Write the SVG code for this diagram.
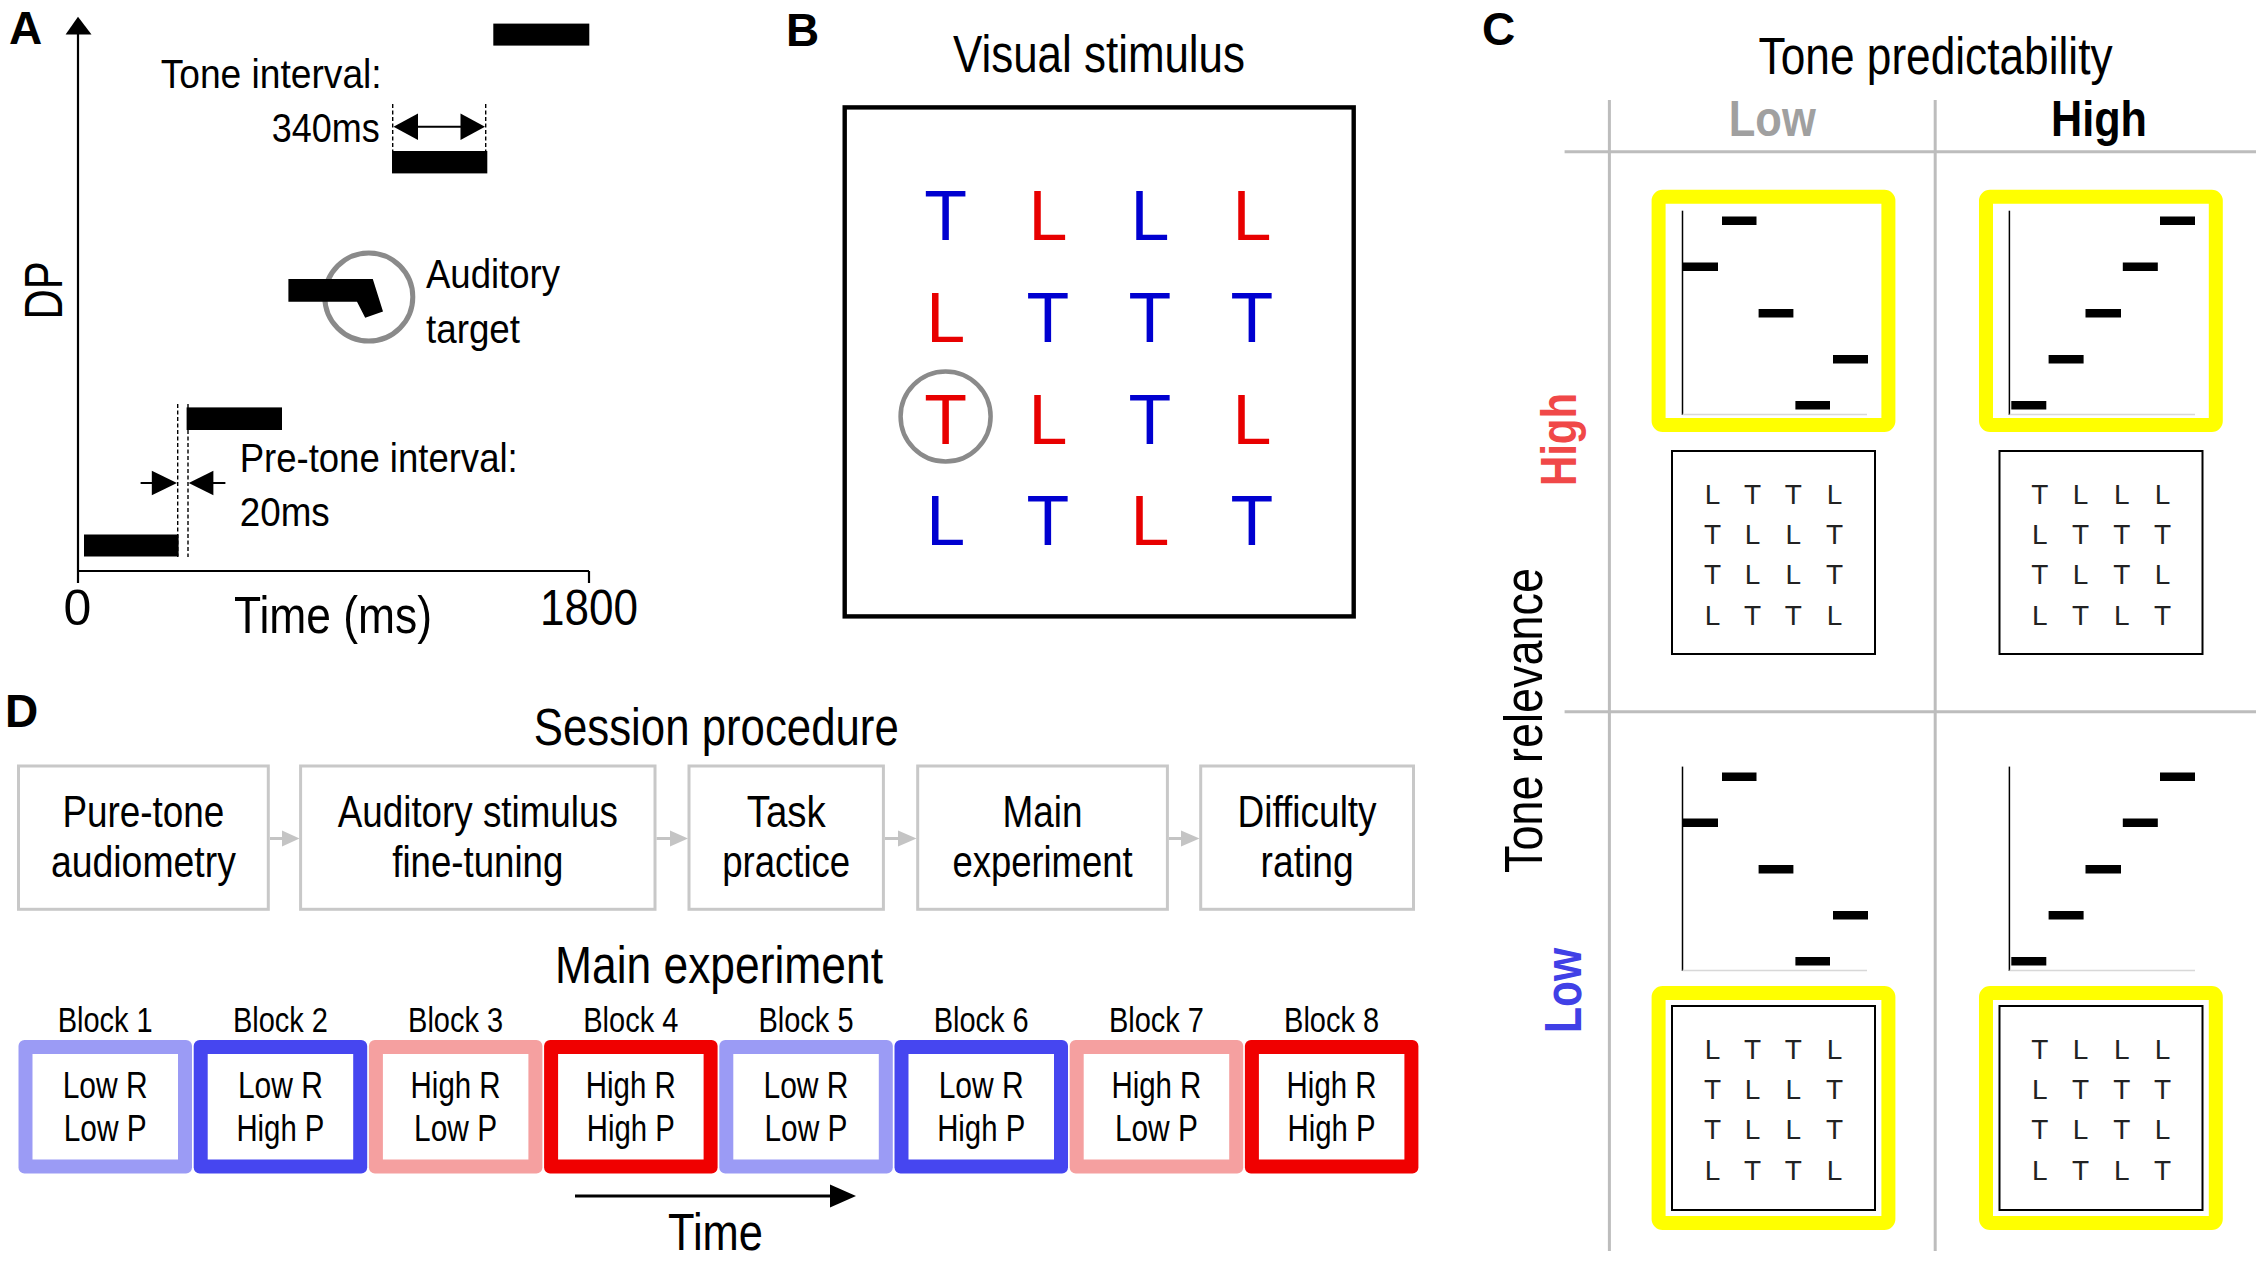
<svg xmlns="http://www.w3.org/2000/svg" width="2260" height="1264" viewBox="0 0 2260 1264">
<style>
text{font-family:"Liberation Sans",Arial,Helvetica,sans-serif;fill:#000}
.lbl{font-weight:bold;font-size:46px}
.ta{font-size:40px}
.big{font-size:51px}
.stim{font-size:70px;text-anchor:middle}
.bl{fill:#0000d0}
.rd{fill:#e80000}
.sm{font-size:28px;text-anchor:middle;fill:#222}
.bar{fill:#000}
.dash{stroke:#000;stroke-width:1.4;stroke-dasharray:4 2.5;fill:none}
.ax{stroke:#000;stroke-width:2.2;fill:none}
.grid{stroke:#bdbdbd;stroke-width:3;fill:none}
.yel{fill:none;stroke:#ffff00;stroke-width:14}
.pax{stroke:#000;stroke-width:1.5}
.pxa{stroke:#d8d8d8;stroke-width:1.5}
.sbox{fill:#fff;stroke:#000;stroke-width:2}
.proc{fill:#fff;stroke:#c8c8c8;stroke-width:3}
.pt{font-size:44px;text-anchor:middle}
.bk{font-size:35px;text-anchor:middle}
.bt{font-size:36px;text-anchor:middle}
.c1{fill:#9b9bf5}.c2{fill:#4646f0}.c3{fill:#f5a0a0}.c4{fill:#f00000}
</style>

<!-- Panel A -->
<g id="panelA">
  <text class="lbl" x="9" y="44">A</text>
  <line class="ax" x1="78" y1="30" x2="78" y2="583"/>
  <polygon points="78,16.8 65.6,34.5 91.5,34.5" fill="#000"/>
  <line class="ax" x1="77" y1="571" x2="589" y2="571"/>
  <line class="ax" x1="589" y1="571" x2="589" y2="583"/>
  <text x="0" y="0" font-size="54" text-anchor="middle" textLength="58" lengthAdjust="spacingAndGlyphs" transform="translate(62,290.5) rotate(-90)">DP</text>
  <text x="77.5" y="625" font-size="50" text-anchor="middle">0</text>
  <text x="540" y="625" font-size="50" textLength="98" lengthAdjust="spacingAndGlyphs">1800</text>
  <text x="234" y="633" font-size="52" textLength="198" lengthAdjust="spacingAndGlyphs">Time (ms)</text>
  <rect class="bar" x="84" y="534.5" width="94.6" height="22"/>
  <rect class="bar" x="186.6" y="407.4" width="95.4" height="22.6"/>
  <circle cx="368.8" cy="297" r="44" fill="none" stroke="#8a8a8a" stroke-width="5"/>
  <polygon class="bar" points="288.4,279 372.8,279 383,311.4 365.2,317.8 357,301.8 288.4,301.8"/>
  <rect class="bar" x="392" y="151" width="95.3" height="22.4"/>
  <rect class="bar" x="493.3" y="23.6" width="96" height="22"/>
  <line class="dash" x1="177.7" y1="404" x2="177.7" y2="557"/>
  <line class="dash" x1="188" y1="404" x2="188" y2="557"/>
  <line class="dash" x1="392.7" y1="104" x2="392.7" y2="151"/>
  <line class="dash" x1="485.7" y1="104" x2="485.7" y2="151"/>
  <line x1="400" y1="126.7" x2="478" y2="126.7" stroke="#000" stroke-width="2"/>
  <polygon class="bar" points="393.5,126.7 418,113.4 418,140"/>
  <polygon class="bar" points="485,126.7 460.5,113.4 460.5,140"/>
  <line x1="140.6" y1="483" x2="160" y2="483" stroke="#000" stroke-width="2"/>
  <polygon class="bar" points="177,483 151.8,470.8 151.8,495.2"/>
  <line x1="205" y1="483" x2="225.4" y2="483" stroke="#000" stroke-width="2"/>
  <polygon class="bar" points="188.7,483 213.4,470.8 213.4,495.2"/>
  <text class="ta" x="160.7" y="87.5" textLength="221" lengthAdjust="spacingAndGlyphs">Tone interval:</text>
  <text class="ta" x="271.7" y="141.7" textLength="108" lengthAdjust="spacingAndGlyphs">340ms</text>
  <text class="ta" x="426" y="288.3" textLength="134" lengthAdjust="spacingAndGlyphs">Auditory</text>
  <text class="ta" x="426" y="343" textLength="94" lengthAdjust="spacingAndGlyphs">target</text>
  <text class="ta" x="239.7" y="472.2" textLength="278" lengthAdjust="spacingAndGlyphs">Pre-tone interval:</text>
  <text class="ta" x="239.7" y="526" textLength="90" lengthAdjust="spacingAndGlyphs">20ms</text>
</g>

<!-- Panel B -->
<g id="panelB">
  <text class="lbl" x="786" y="45.5">B</text>
  <text class="big" x="953" y="72.4" textLength="292" lengthAdjust="spacingAndGlyphs">Visual stimulus</text>
  <rect x="844.7" y="107.4" width="509" height="509" fill="none" stroke="#000" stroke-width="4.4"/>
  <circle cx="945.6" cy="416.5" r="45" fill="none" stroke="#8a8a8a" stroke-width="4.5"/>
  <text class="stim bl" x="945.6" y="240">T</text>
  <text class="stim rd" x="1048" y="240">L</text>
  <text class="stim bl" x="1150" y="240">L</text>
  <text class="stim rd" x="1252" y="240">L</text>
  <text class="stim rd" x="945.6" y="342">L</text>
  <text class="stim bl" x="1048" y="342">T</text>
  <text class="stim bl" x="1150" y="342">T</text>
  <text class="stim bl" x="1252" y="342">T</text>
  <text class="stim rd" x="945.6" y="444">T</text>
  <text class="stim rd" x="1048" y="444">L</text>
  <text class="stim bl" x="1150" y="444">T</text>
  <text class="stim rd" x="1252" y="444">L</text>
  <text class="stim bl" x="945.6" y="545">L</text>
  <text class="stim bl" x="1048" y="545">T</text>
  <text class="stim rd" x="1150" y="545">L</text>
  <text class="stim bl" x="1252" y="545">T</text>
</g>

<!-- Panel C -->
<g id="panelC">
  <text class="lbl" x="1482" y="45">C</text>
  <text class="big" x="1758.6" y="73.7" font-size="50" textLength="354" lengthAdjust="spacingAndGlyphs">Tone predictability</text>
  <text x="1728.8" y="136" font-size="50" font-weight="bold" textLength="87" lengthAdjust="spacingAndGlyphs" style="fill:#a0a0a0">Low</text>
  <text x="2051" y="136" font-size="50" font-weight="bold" textLength="96" lengthAdjust="spacingAndGlyphs">High</text>
  <text x="0" y="0" font-size="54" textLength="305" lengthAdjust="spacingAndGlyphs" transform="translate(1542,873) rotate(-90)">Tone relevance</text>
  <text x="0" y="0" font-size="50" font-weight="bold" textLength="93" lengthAdjust="spacingAndGlyphs" transform="translate(1576,486) rotate(-90)" style="fill:#f04848">High</text>
  <text x="0" y="0" font-size="52" font-weight="bold" textLength="85" lengthAdjust="spacingAndGlyphs" transform="translate(1581,1033) rotate(-90)" style="fill:#4040e6">Low</text>
  <line class="grid" x1="1564.6" y1="151.8" x2="2256" y2="151.8"/>
  <line class="grid" x1="1564.6" y1="711.7" x2="2256" y2="711.7"/>
  <line class="grid" x1="1609.4" y1="100" x2="1609.4" y2="1251"/>
  <line class="grid" x1="1935.2" y1="100" x2="1935.2" y2="1251"/>
</g>

<g id="cellHL">
  <rect class="yel" x="1658.6" y="196.7" width="229.8" height="228.3" rx="4"/>
  <line class="pax" x1="1682.5" y1="210.7" x2="1682.5" y2="415"/>
  <line class="pxa" x1="1682.5" y1="414.5" x2="1867" y2="414.5"/>
  <rect class="bar" x="1722" y="216.5" width="34.5" height="8.5"/>
  <rect class="bar" x="1683" y="262.5" width="35" height="8.5"/>
  <rect class="bar" x="1758.6" y="309" width="34.8" height="8.5"/>
  <rect class="bar" x="1833" y="355" width="35" height="8.5"/>
  <rect class="bar" x="1795.4" y="401" width="34.6" height="8.5"/>
  <rect class="sbox" x="1672" y="451" width="203" height="203"/>
  <text class="sm" x="1712.5" y="504">L</text><text class="sm" x="1752.6" y="504">T</text><text class="sm" x="1793.3" y="504">T</text><text class="sm" x="1834.5" y="504">L</text>
  <text class="sm" x="1712.5" y="544">T</text><text class="sm" x="1752.6" y="544">L</text><text class="sm" x="1793.3" y="544">L</text><text class="sm" x="1834.5" y="544">T</text>
  <text class="sm" x="1712.5" y="584">T</text><text class="sm" x="1752.6" y="584">L</text><text class="sm" x="1793.3" y="584">L</text><text class="sm" x="1834.5" y="584">T</text>
  <text class="sm" x="1712.5" y="625">L</text><text class="sm" x="1752.6" y="625">T</text><text class="sm" x="1793.3" y="625">T</text><text class="sm" x="1834.5" y="625">L</text>
</g>

<g id="cellHH">
  <rect class="yel" x="1986" y="196.7" width="229.8" height="228.3" rx="4"/>
  <line class="pax" x1="2009.4" y1="210.7" x2="2009.4" y2="415"/>
  <line class="pxa" x1="2009.4" y1="414.5" x2="2195" y2="414.5"/>
  <rect class="bar" x="2160" y="216.5" width="35" height="8.5"/>
  <rect class="bar" x="2122.8" y="262.5" width="35" height="8.5"/>
  <rect class="bar" x="2085.5" y="309" width="35.5" height="8.5"/>
  <rect class="bar" x="2048.6" y="355" width="35" height="8.5"/>
  <rect class="bar" x="2011.3" y="401" width="35" height="8.5"/>
  <rect class="sbox" x="1999.5" y="451" width="203" height="203"/>
  <text class="sm" x="2039.7" y="504">T</text><text class="sm" x="2080.5" y="504">L</text><text class="sm" x="2121.8" y="504">L</text><text class="sm" x="2162.6" y="504">L</text>
  <text class="sm" x="2039.7" y="544">L</text><text class="sm" x="2080.5" y="544">T</text><text class="sm" x="2121.8" y="544">T</text><text class="sm" x="2162.6" y="544">T</text>
  <text class="sm" x="2039.7" y="584">T</text><text class="sm" x="2080.5" y="584">L</text><text class="sm" x="2121.8" y="584">T</text><text class="sm" x="2162.6" y="584">L</text>
  <text class="sm" x="2039.7" y="625">L</text><text class="sm" x="2080.5" y="625">T</text><text class="sm" x="2121.8" y="625">L</text><text class="sm" x="2162.6" y="625">T</text>
</g>

<g id="cellLL">
  <line class="pax" x1="1682.5" y1="766.6" x2="1682.5" y2="971"/>
  <line class="pxa" x1="1682.5" y1="970.5" x2="1867" y2="970.5"/>
  <rect class="bar" x="1722" y="772.5" width="34.5" height="8.5"/>
  <rect class="bar" x="1683" y="818.5" width="35" height="8.5"/>
  <rect class="bar" x="1758.6" y="865" width="34.8" height="8.5"/>
  <rect class="bar" x="1833" y="911" width="35" height="8.5"/>
  <rect class="bar" x="1795.4" y="957" width="34.6" height="8.5"/>
  <rect class="yel" x="1658.6" y="993" width="229.8" height="230" rx="4"/>
  <rect class="sbox" x="1672" y="1006" width="203" height="204"/>
  <text class="sm" x="1712.5" y="1059">L</text><text class="sm" x="1752.6" y="1059">T</text><text class="sm" x="1793.3" y="1059">T</text><text class="sm" x="1834.5" y="1059">L</text>
  <text class="sm" x="1712.5" y="1099">T</text><text class="sm" x="1752.6" y="1099">L</text><text class="sm" x="1793.3" y="1099">L</text><text class="sm" x="1834.5" y="1099">T</text>
  <text class="sm" x="1712.5" y="1139">T</text><text class="sm" x="1752.6" y="1139">L</text><text class="sm" x="1793.3" y="1139">L</text><text class="sm" x="1834.5" y="1139">T</text>
  <text class="sm" x="1712.5" y="1180">L</text><text class="sm" x="1752.6" y="1180">T</text><text class="sm" x="1793.3" y="1180">T</text><text class="sm" x="1834.5" y="1180">L</text>
</g>

<g id="cellLH">
  <line class="pax" x1="2009.4" y1="766.6" x2="2009.4" y2="971"/>
  <line class="pxa" x1="2009.4" y1="970.5" x2="2195" y2="970.5"/>
  <rect class="bar" x="2160" y="772.5" width="35" height="8.5"/>
  <rect class="bar" x="2122.8" y="818.5" width="35" height="8.5"/>
  <rect class="bar" x="2085.5" y="865" width="35.5" height="8.5"/>
  <rect class="bar" x="2048.6" y="911" width="35" height="8.5"/>
  <rect class="bar" x="2011.3" y="957" width="35" height="8.5"/>
  <rect class="yel" x="1986" y="993" width="229.8" height="230" rx="4"/>
  <rect class="sbox" x="1999.5" y="1006" width="203" height="204"/>
  <text class="sm" x="2039.7" y="1059">T</text><text class="sm" x="2080.5" y="1059">L</text><text class="sm" x="2121.8" y="1059">L</text><text class="sm" x="2162.6" y="1059">L</text>
  <text class="sm" x="2039.7" y="1099">L</text><text class="sm" x="2080.5" y="1099">T</text><text class="sm" x="2121.8" y="1099">T</text><text class="sm" x="2162.6" y="1099">T</text>
  <text class="sm" x="2039.7" y="1139">T</text><text class="sm" x="2080.5" y="1139">L</text><text class="sm" x="2121.8" y="1139">T</text><text class="sm" x="2162.6" y="1139">L</text>
  <text class="sm" x="2039.7" y="1180">L</text><text class="sm" x="2080.5" y="1180">T</text><text class="sm" x="2121.8" y="1180">L</text><text class="sm" x="2162.6" y="1180">T</text>
</g>

<!-- Panel D -->
<g id="panelD">
  <text class="lbl" x="5" y="727" font-size="44">D</text>
  <text class="big" x="533.8" y="745" textLength="365" lengthAdjust="spacingAndGlyphs">Session procedure</text>
  <text class="big" x="555" y="983.3" textLength="328" lengthAdjust="spacingAndGlyphs">Main experiment</text>
</g>

<g id="step1">
  <rect class="proc" x="18.5" y="766" width="249.8" height="143.3"/>
  <text class="pt" x="143.4" y="826.7" textLength="162" lengthAdjust="spacingAndGlyphs">Pure-tone</text>
  <text class="pt" x="143.4" y="876.7" textLength="185" lengthAdjust="spacingAndGlyphs">audiometry</text>
</g>
<g id="step2">
  <rect class="proc" x="300.6" y="766" width="354.4" height="143.3"/>
  <text class="pt" x="477.8" y="826.7" textLength="280" lengthAdjust="spacingAndGlyphs">Auditory stimulus</text>
  <text class="pt" x="477.8" y="876.7" textLength="171" lengthAdjust="spacingAndGlyphs">fine-tuning</text>
</g>
<g id="step3">
  <rect class="proc" x="689" y="766" width="194.4" height="143.3"/>
  <text class="pt" x="786.2" y="826.7" textLength="79" lengthAdjust="spacingAndGlyphs">Task</text>
  <text class="pt" x="786.2" y="876.7" textLength="128" lengthAdjust="spacingAndGlyphs">practice</text>
</g>
<g id="step4">
  <rect class="proc" x="917.7" y="766" width="249.7" height="143.3"/>
  <text class="pt" x="1042.5" y="826.7" textLength="80" lengthAdjust="spacingAndGlyphs">Main</text>
  <text class="pt" x="1042.5" y="876.7" textLength="180" lengthAdjust="spacingAndGlyphs">experiment</text>
</g>
<g id="step5">
  <rect class="proc" x="1200.7" y="766" width="212.8" height="143.3"/>
  <text class="pt" x="1307.1" y="826.7" textLength="139" lengthAdjust="spacingAndGlyphs">Difficulty</text>
  <text class="pt" x="1307.1" y="876.7" textLength="93" lengthAdjust="spacingAndGlyphs">rating</text>
</g>

<g id="connectors" fill="#c4c4c4" stroke="#c4c4c4">
  <line x1="270" y1="838.5" x2="284" y2="838.5" stroke-width="3"/>
  <polygon points="282,830.5 299.5,838.5 282,846.5" stroke="none"/>
  <line x1="656.5" y1="838.5" x2="672" y2="838.5" stroke-width="3"/>
  <polygon points="670,830.5 688,838.5 670,846.5" stroke="none"/>
  <line x1="885" y1="838.5" x2="900" y2="838.5" stroke-width="3"/>
  <polygon points="898,830.5 916.5,838.5 898,846.5" stroke="none"/>
  <line x1="1169" y1="838.5" x2="1183" y2="838.5" stroke-width="3"/>
  <polygon points="1181,830.5 1199.5,838.5 1181,846.5" stroke="none"/>
</g>

<g id="block1"><rect class="c1" x="18.5" y="1040" width="173.5" height="133.5" rx="6"/><rect x="32.5" y="1054" width="145.5" height="105.5" fill="#fff"/>
  <text class="bk" x="105.2" y="1031.7" textLength="95" lengthAdjust="spacingAndGlyphs">Block 1</text>
  <text class="bt" x="105.2" y="1097.5" textLength="85" lengthAdjust="spacingAndGlyphs">Low R</text>
  <text class="bt" x="105.2" y="1141" textLength="83" lengthAdjust="spacingAndGlyphs">Low P</text></g>
<g id="block2"><rect class="c2" x="193.7" y="1040" width="173.5" height="133.5" rx="6"/><rect x="207.7" y="1054" width="145.5" height="105.5" fill="#fff"/>
  <text class="bk" x="280.4" y="1031.7" textLength="95" lengthAdjust="spacingAndGlyphs">Block 2</text>
  <text class="bt" x="280.4" y="1097.5" textLength="85" lengthAdjust="spacingAndGlyphs">Low R</text>
  <text class="bt" x="280.4" y="1141" textLength="88" lengthAdjust="spacingAndGlyphs">High P</text></g>
<g id="block3"><rect class="c3" x="368.9" y="1040" width="173.5" height="133.5" rx="6"/><rect x="382.9" y="1054" width="145.5" height="105.5" fill="#fff"/>
  <text class="bk" x="455.6" y="1031.7" textLength="95" lengthAdjust="spacingAndGlyphs">Block 3</text>
  <text class="bt" x="455.6" y="1097.5" textLength="90" lengthAdjust="spacingAndGlyphs">High R</text>
  <text class="bt" x="455.6" y="1141" textLength="83" lengthAdjust="spacingAndGlyphs">Low P</text></g>
<g id="block4"><rect class="c4" x="544.1" y="1040" width="173.5" height="133.5" rx="6"/><rect x="558.1" y="1054" width="145.5" height="105.5" fill="#fff"/>
  <text class="bk" x="630.8" y="1031.7" textLength="95" lengthAdjust="spacingAndGlyphs">Block 4</text>
  <text class="bt" x="630.8" y="1097.5" textLength="90" lengthAdjust="spacingAndGlyphs">High R</text>
  <text class="bt" x="630.8" y="1141" textLength="88" lengthAdjust="spacingAndGlyphs">High P</text></g>
<g id="block5"><rect class="c1" x="719.3" y="1040" width="173.5" height="133.5" rx="6"/><rect x="733.3" y="1054" width="145.5" height="105.5" fill="#fff"/>
  <text class="bk" x="806" y="1031.7" textLength="95" lengthAdjust="spacingAndGlyphs">Block 5</text>
  <text class="bt" x="806" y="1097.5" textLength="85" lengthAdjust="spacingAndGlyphs">Low R</text>
  <text class="bt" x="806" y="1141" textLength="83" lengthAdjust="spacingAndGlyphs">Low P</text></g>
<g id="block6"><rect class="c2" x="894.5" y="1040" width="173.5" height="133.5" rx="6"/><rect x="908.5" y="1054" width="145.5" height="105.5" fill="#fff"/>
  <text class="bk" x="981.2" y="1031.7" textLength="95" lengthAdjust="spacingAndGlyphs">Block 6</text>
  <text class="bt" x="981.2" y="1097.5" textLength="85" lengthAdjust="spacingAndGlyphs">Low R</text>
  <text class="bt" x="981.2" y="1141" textLength="88" lengthAdjust="spacingAndGlyphs">High P</text></g>
<g id="block7"><rect class="c3" x="1069.7" y="1040" width="173.5" height="133.5" rx="6"/><rect x="1083.7" y="1054" width="145.5" height="105.5" fill="#fff"/>
  <text class="bk" x="1156.4" y="1031.7" textLength="95" lengthAdjust="spacingAndGlyphs">Block 7</text>
  <text class="bt" x="1156.4" y="1097.5" textLength="90" lengthAdjust="spacingAndGlyphs">High R</text>
  <text class="bt" x="1156.4" y="1141" textLength="83" lengthAdjust="spacingAndGlyphs">Low P</text></g>
<g id="block8"><rect class="c4" x="1244.9" y="1040" width="173.5" height="133.5" rx="6"/><rect x="1258.9" y="1054" width="145.5" height="105.5" fill="#fff"/>
  <text class="bk" x="1331.6" y="1031.7" textLength="95" lengthAdjust="spacingAndGlyphs">Block 8</text>
  <text class="bt" x="1331.6" y="1097.5" textLength="90" lengthAdjust="spacingAndGlyphs">High R</text>
  <text class="bt" x="1331.6" y="1141" textLength="88" lengthAdjust="spacingAndGlyphs">High P</text></g>

<g id="timeArrow">
  <line x1="575" y1="1196" x2="835" y2="1196" stroke="#000" stroke-width="3"/>
  <polygon points="830,1184.5 856,1196 830,1207.5" fill="#000"/>
  <text x="668" y="1250" font-size="52" textLength="95" lengthAdjust="spacingAndGlyphs">Time</text>
</g>
</svg>
